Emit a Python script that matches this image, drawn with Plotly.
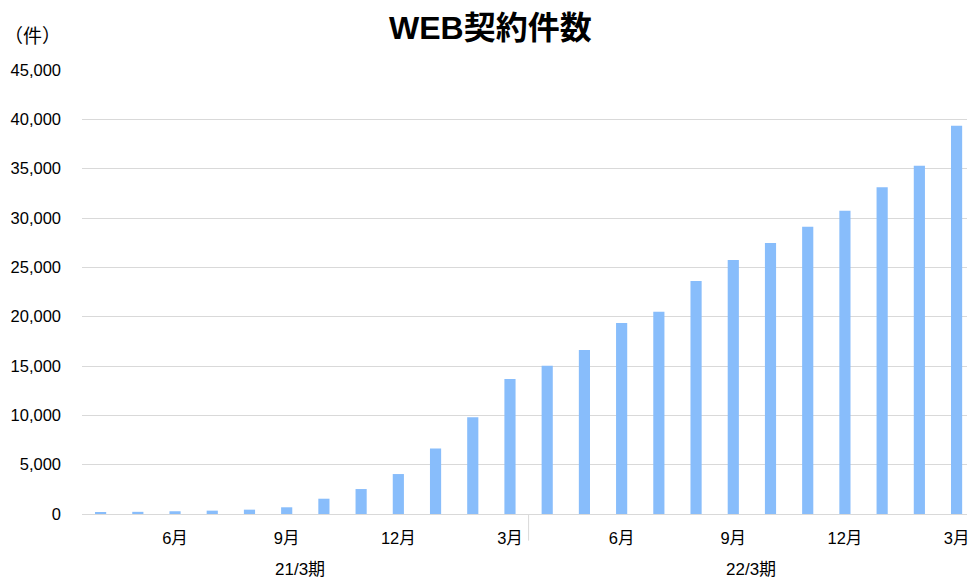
import plotly.graph_objects as go

months = ["2020/4", "2020/5", "2020/6", "2020/7", "2020/8", "2020/9", "2020/10", "2020/11",
          "2020/12", "2021/1", "2021/2", "2021/3", "2021/4", "2021/5", "2021/6", "2021/7",
          "2021/8", "2021/9", "2021/10", "2021/11", "2021/12", "2022/1", "2022/2", "2022/3"]
contracts = [110, 220, 280, 340, 440, 680, 1550, 2530, 4050, 6650, 9800, 13680,
             15030, 16620, 19360, 20500, 23610, 25740, 27460, 29120, 30740, 33110, 35300, 39360]
tick_months = ["2020/6", "2020/9", "2020/12", "2021/3", "2021/6", "2021/9", "2021/12", "2022/3"]
tick_labels = ["6月", "9月", "12月", "3月", "6月", "9月", "12月", "3月"]
periods = ["21/3期", "22/3期"]
period_centers = [5.35, 17.47]
title = "WEB契約件数"
unit = "（件）"

fig = go.Figure(go.Bar(x=months, y=contracts, marker=dict(color="#88BDFB", line=dict(width=0))))

fig.update_layout(
    width=969, height=579,
    margin=dict(l=82, r=0, t=70, b=65),
    plot_bgcolor="white", paper_bgcolor="white",
    bargap=0.7,
    showlegend=False,
    font=dict(family="Liberation Sans, Arial, Noto Sans CJK JP", size=15, color="#000000"),
    title=dict(text="<b>" + title + "</b>", x=0.506, xanchor="center", y=0.952, yanchor="middle",
               font=dict(family="Liberation Sans, Noto Sans CJK JP", size=32, color="#000000")),
)
fig.update_xaxes(
    type="category", range=[-0.5, 23.28],
    tickmode="array", tickvals=tick_months, ticktext=tick_labels,
    ticks="", showgrid=False, showline=True, linecolor="#d9d9d9", linewidth=1,
    ticklabelstandoff=9,
    tickfont=dict(family="Liberation Sans, Noto Sans CJK JP", size=16.5),
)
fig.update_yaxes(
    range=[0, 45000], tickvals=list(range(0, 45001, 5000)), tickformat=",",
    showgrid=True, gridcolor="#d9d9d9", gridwidth=1, zeroline=False,
    ticks="", ticklabelstandoff=20,
    tickfont=dict(family="Liberation Sans", size=16.5),
)
fig.add_shape(type="line", xref="x", yref="paper", x0=11.5, x1=11.5, y0=0, y1=-0.06,
              line=dict(color="#d9d9d9", width=1))
for p, c in zip(periods, period_centers):
    fig.add_annotation(text=p, xref="x", yref="paper", x=c, y=-0.126, yanchor="middle",
                       showarrow=False, font=dict(family="Liberation Sans, Noto Sans CJK JP", size=17))
fig.add_annotation(text=unit, xref="paper", yref="paper", x=-0.09, xanchor="left", y=1.081, yanchor="middle",
                   showarrow=False, font=dict(family="Noto Sans CJK JP", size=19))

fig.write_html("out.html")
